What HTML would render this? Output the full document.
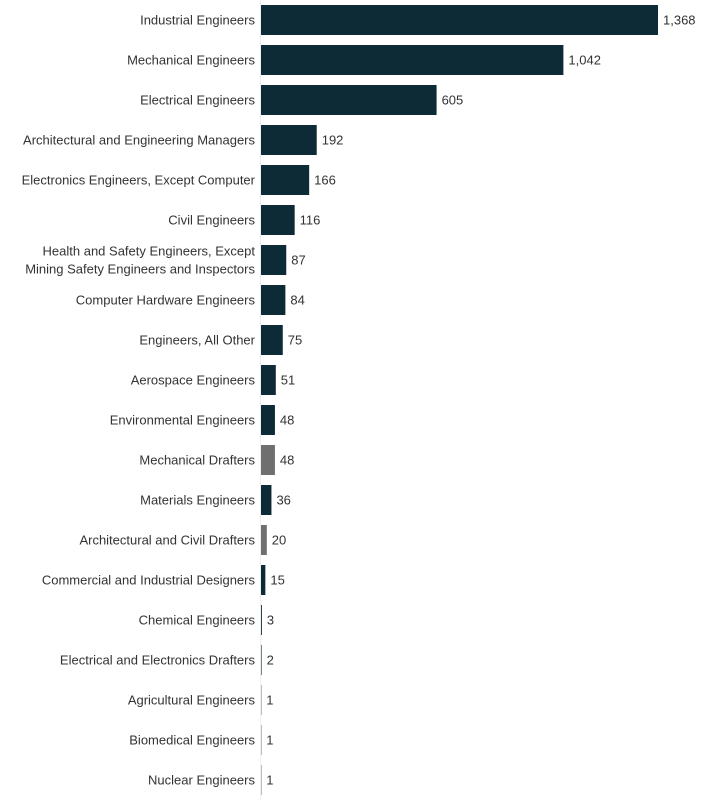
<!DOCTYPE html>
<html><head><meta charset="utf-8"><style>
body{margin:0;background:#fff;width:703px;height:800px;overflow:hidden;font-family:"Liberation Sans",sans-serif;}
svg text{font-family:"Liberation Sans",sans-serif;font-size:13px;fill:#333;}
</style></head><body>
<svg id="chart" width="703" height="800" xmlns="http://www.w3.org/2000/svg">
<line x1="260.5" y1="0" x2="260.5" y2="800" stroke="#eeeeee" stroke-width="1"/>
</svg>
<script>
const categories=["Industrial Engineers","Mechanical Engineers","Electrical Engineers","Architectural and Engineering Managers","Electronics Engineers, Except Computer","Civil Engineers","Health and Safety Engineers, Except|Mining Safety Engineers and Inspectors","Computer Hardware Engineers","Engineers, All Other","Aerospace Engineers","Environmental Engineers","Mechanical Drafters","Materials Engineers","Architectural and Civil Drafters","Commercial and Industrial Designers","Chemical Engineers","Electrical and Electronics Drafters","Agricultural Engineers","Biomedical Engineers","Nuclear Engineers"];
const values=[1368,1042,605,192,166,116,87,84,75,51,48,48,36,20,15,3,2,1,1,1];
const isDrafter=[0,0,0,0,0,0,0,0,0,0,0,1,0,1,0,0,0,0,0,0];
const valueLabels=["1,368","1,042","605","192","166","116","87","84","75","51","48","48","36","20","15","3","2","1","1","1"];
const svg=document.getElementById('chart');
const NS="http://www.w3.org/2000/svg";
const x0=261, xMaxPx=658, maxV=1368;
function xScale(v){return x0+(xMaxPx-x0)*v/maxV;}
function yScale(i){return 20+40*i;}
categories.forEach((c,i)=>{
  const yc=yScale(i);
  const w=xScale(values[i])-x0;
  const r=document.createElementNS(NS,'rect');
  
  
  r.setAttribute('x',x0);r.setAttribute('y',yc-15);
  r.setAttribute('width',Math.max(w,0));r.setAttribute('height',30);
  r.setAttribute('fill',isDrafter[i]?'#6f6f6f':'#0c2b37');
  svg.appendChild(r);
  const lab=document.createElementNS(NS,'text');
  
  
  lab.setAttribute('text-anchor','end');
  const lines=c.split('|');
  lines.forEach((ln,k)=>{
    const ts=document.createElementNS(NS,'tspan');
    ts.setAttribute('x',255);
    ts.setAttribute('y',yc+4.5+(k-(lines.length-1)/2)*18);
    ts.textContent=ln;
    lab.appendChild(ts);
  });
  svg.appendChild(lab);
  const vl=document.createElementNS(NS,'text');
  
  
  vl.setAttribute('x',xScale(values[i])+5);
  vl.setAttribute('y',yc+4.5);
  vl.setAttribute('fill','#222');
  vl.textContent=valueLabels[i];
  svg.appendChild(vl);
});
</script>
</body></html>
